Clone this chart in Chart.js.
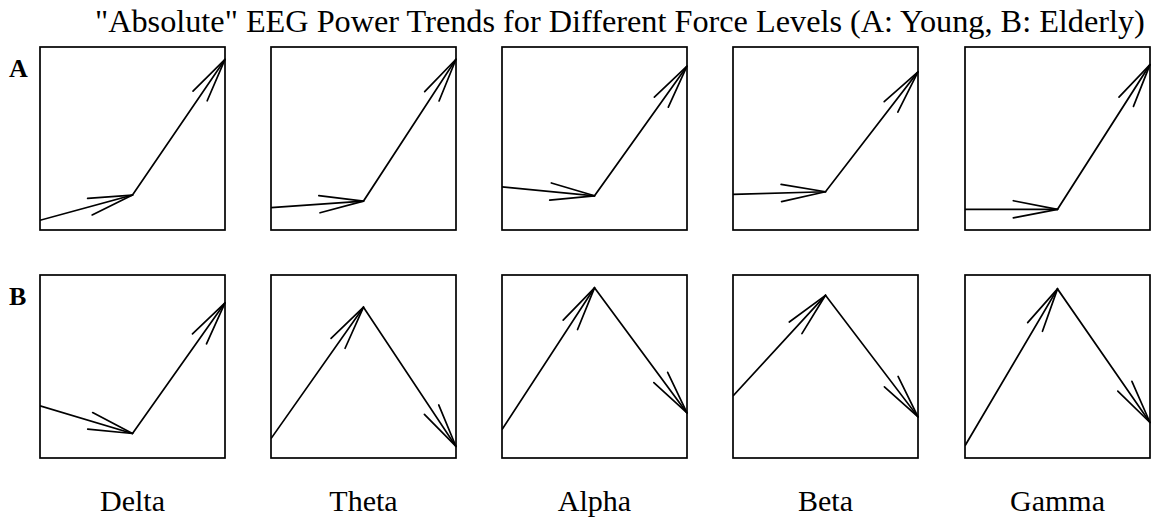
<!DOCTYPE html>
<html>
<head>
<meta charset="utf-8">
<script src="https://cdn.jsdelivr.net/npm/chart.js@4"></script>
<style>
  html, body { margin: 0; padding: 0; background: #fff; }
  #wrap { position: relative; width: 1152px; height: 518px; overflow: hidden; font-family: "Liberation Serif", serif; color: #000; }
  .lbl { position: absolute; white-space: nowrap; line-height: 1; }
  .panel { position: absolute; }
</style>
</head>
<body>
<div id="wrap">
  <div id="title" class="lbl" style="left:95px; top:6px; font-size:31px; transform-origin:0 0;">"Absolute" EEG Power Trends for Different Force Levels (A: Young, B: Elderly)</div>
</div>
<script>
// x positions of the three force levels in every panel
const forceLevels = [0, 1, 2];
const bands = ['Delta', 'Theta', 'Alpha', 'Beta', 'Gamma'];
const rowNames = ['A', 'B'];

// relative power (0-100 of the panel height), one array per band
const young = [
    [5.3, 19.1, 93.2],   // Delta
    [12.2, 15.8, 93.3],  // Theta
    [23.6, 18.7, 89.5],  // Alpha
    [19.5, 20.9, 86.4],  // Beta
    [11.3, 11.3, 90.4]   // Gamma
];
const elderly = [
    [28.5, 13.4, 84.8],  // Delta
    [10.6, 82.4, 6.3],   // Theta
    [15.5, 93.0, 24.6],  // Alpha
    [33.9, 88.9, 22.5],  // Beta
    [6.7, 92.4, 19.4]    // Gamma
];

const wrap = document.getElementById('wrap');
const colLeft = [40, 271, 502, 733, 965];
const rowTop = [47, 275];
const boxW = 185, boxH = 183, pad = 2;

// box around the plot area + open arrowheads at the end of each segment
const arrowPlugin = {
    id: 'arrows',
    beforeDatasetsDraw(chart) {
        const a = chart.chartArea, ctx = chart.ctx;
        ctx.save();
        ctx.strokeStyle = '#000';
        ctx.lineWidth = 1.7;
        ctx.strokeRect(a.left, a.top, a.right - a.left, a.bottom - a.top);
        ctx.restore();
    },
    afterDatasetsDraw(chart) {
        const pts = chart.getDatasetMeta(0).data, ctx = chart.ctx;
        const len = 45, spread = 11 * Math.PI / 180;
        ctx.save();
        ctx.strokeStyle = '#000';
        ctx.lineWidth = 1.7;
        ctx.lineCap = 'round';
        for (let i = 1; i < pts.length; i++) {
            const p0 = pts[i - 1], p1 = pts[i];
            const ang = Math.atan2(p1.y - p0.y, p1.x - p0.x);
            [ang + spread, ang - spread].forEach(t => {
                ctx.beginPath();
                ctx.moveTo(p1.x, p1.y);
                ctx.lineTo(p1.x - len * Math.cos(t), p1.y - len * Math.sin(t));
                ctx.stroke();
            });
        }
        ctx.restore();
    }
};

function makePanel(left, top, values) {
    const canvas = document.createElement('canvas');
    canvas.className = 'panel';
    canvas.width = boxW + pad * 2;
    canvas.height = boxH + pad * 2;
    canvas.style.left = (left - pad) + 'px';
    canvas.style.top = (top - pad) + 'px';
    wrap.appendChild(canvas);
    new Chart(canvas.getContext('2d'), {
        type: 'line',
        data: {
            datasets: [{
                data: forceLevels.map((x, i) => ({ x: x, y: values[i] })),
                borderColor: '#000',
                borderWidth: 1.7,
                pointRadius: 0,
                tension: 0,
                fill: false
            }]
        },
        options: {
            responsive: false,
            animation: false,
            events: [],
            layout: { padding: pad },
            plugins: { legend: { display: false }, tooltip: { enabled: false } },
            scales: {
                x: { type: 'linear', min: 0, max: 2, display: false },
                y: { min: 0, max: 100, display: false }
            }
        },
        plugins: [arrowPlugin]
    });
}

bands.forEach((band, c) => {
    makePanel(colLeft[c], rowTop[0], young[c]);
    makePanel(colLeft[c], rowTop[1], elderly[c]);

    const lab = document.createElement('div');
    lab.className = 'lbl';
    lab.textContent = band;
    lab.style.left = colLeft[c] + 'px';
    lab.style.width = boxW + 'px';
    lab.style.textAlign = 'center';
    lab.style.top = '486px';
    lab.style.fontSize = '30px';
    wrap.appendChild(lab);
});

rowNames.forEach((name, r) => {
    const lab = document.createElement('div');
    lab.className = 'lbl';
    lab.textContent = name;
    lab.style.left = '9px';
    lab.style.top = (r === 0 ? 56 : 284) + 'px';
    lab.style.fontSize = '26px';
    lab.style.fontWeight = 'bold';
    wrap.appendChild(lab);
});

// squeeze the title to the width it has in the figure
const title = document.getElementById('title');
title.style.transform = 'scaleX(' + (1050 / title.offsetWidth) + ')';
</script>
</body>
</html>
